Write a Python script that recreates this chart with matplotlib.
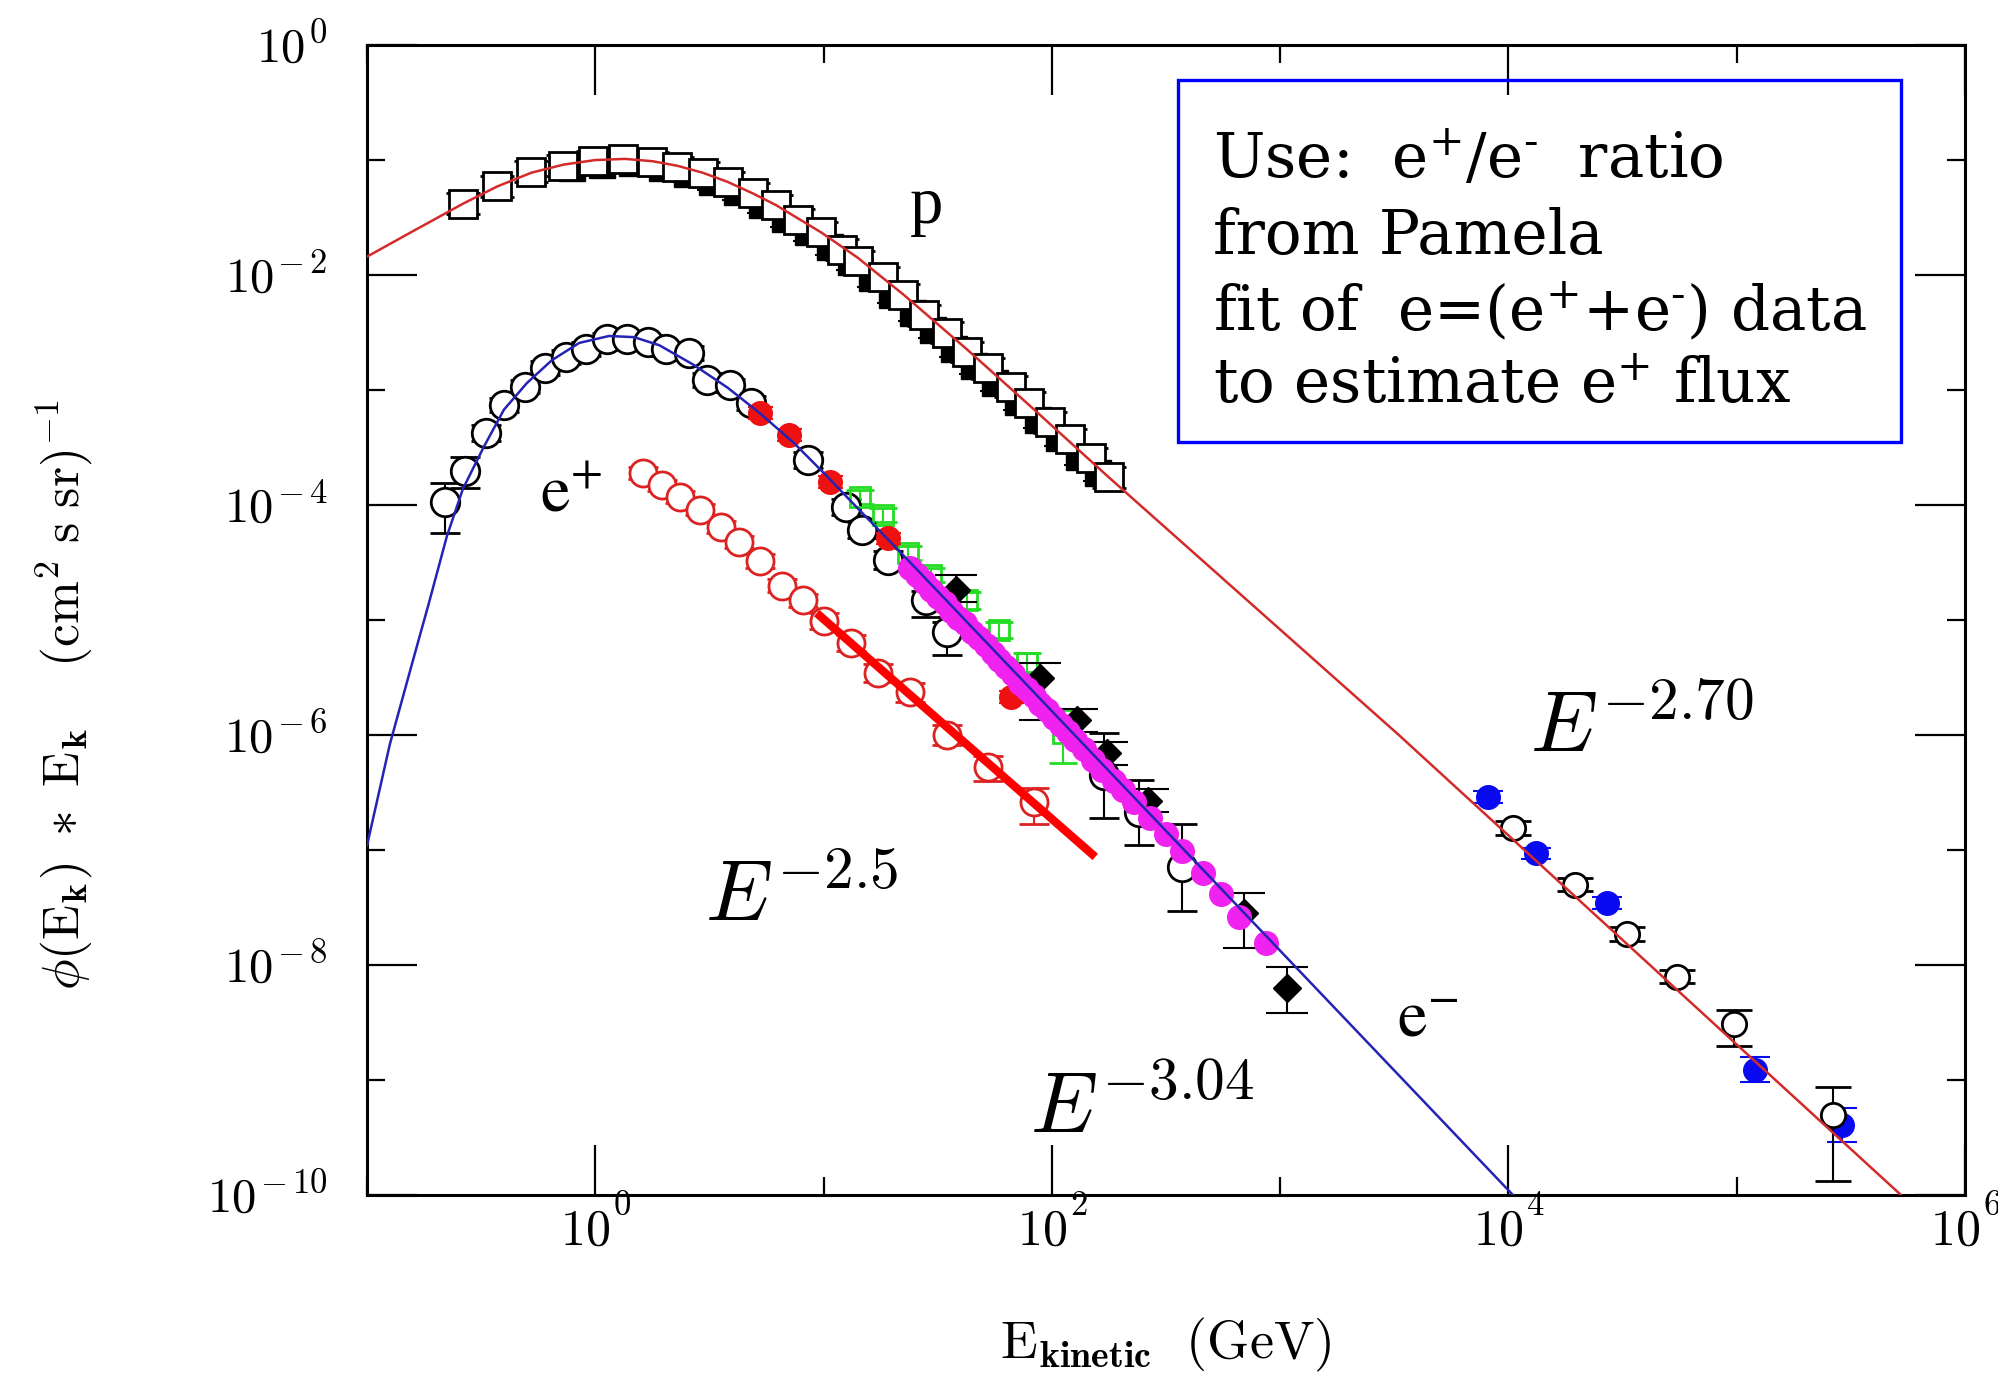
import numpy as np
import matplotlib
matplotlib.use('Agg')
from matplotlib import pyplot as plt
from matplotlib.patches import Rectangle
from matplotlib.ticker import NullFormatter
from matplotlib.transforms import IdentityTransform

plt.rcParams['mathtext.fontset'] = 'cm'
plt.rcParams['font.family'] = ['DejaVu Serif']

# all values are log10: energy in GeV, flux phi(E)*E in (cm^2 s sr)^-1

# proton fit (red curve)
p_fit_logE = [-1.00, -0.80, -0.58, -0.43, -0.28, -0.14, 0.00, 0.13, 0.25, 0.36, 0.47, 0.58,
              0.69, 0.79, 0.89, 0.99, 1.15, 1.35, 1.63, 1.90, 2.25, 3.52, 6.00]
p_fit_logF = [-1.84, -1.62, -1.38, -1.23, -1.11, -1.04, -1.00, -0.99, -1.01, -1.05, -1.11, -1.19,
              -1.29, -1.39, -1.51, -1.63, -1.85, -2.17, -2.65, -3.13, -3.76, -6.00, -10.51]

# electron fit (blue curve)
e_fit_logE = [-1.00, -0.90, -0.80, -0.73, -0.65, -0.58, -0.49, -0.40, -0.30, -0.19, -0.07, 0.06,
              0.17, 0.28, 0.43, 0.58, 0.72, 0.87, 1.01, 1.16, 1.38, 4.01, 4.10]
e_fit_logF = [-6.96, -6.08, -5.36, -4.86, -4.27, -3.86, -3.50, -3.17, -2.94, -2.74, -2.59, -2.53,
              -2.54, -2.61, -2.78, -2.98, -3.20, -3.46, -3.74, -4.05, -4.50, -9.98, -10.17]

# positron power law E^-2.5
pos_line_logE = [0.97, 2.19]
pos_line_logF = [-4.94, -7.06]

# proton data: open squares
p_logE = [-0.58, -0.43, -0.28, -0.14, -0.01, 0.12, 0.25, 0.36, 0.47, 0.58, 0.69, 0.79, 0.89, 0.99,
          1.08, 1.15, 1.26, 1.35, 1.44, 1.54, 1.63, 1.72, 1.82, 1.90, 1.99, 2.08, 2.17, 2.25]
p_logF = [-1.38, -1.23, -1.10, -1.05, -1.01, -0.99, -1.02, -1.06, -1.11, -1.19, -1.29, -1.39, -1.52, -1.63,
          -1.78, -1.88, -2.02, -2.17, -2.35, -2.50, -2.67, -2.81, -2.97, -3.11, -3.28, -3.43, -3.59, -3.76]

# proton data: filled black set
pb_logE = [-0.10, 0.03, 0.16, 0.29, 0.40, 0.51, 0.62, 0.73, 0.83, 0.93, 1.03, 1.12,
           1.21, 1.30, 1.39, 1.48, 1.57, 1.66, 1.75, 1.85, 1.94, 2.03, 2.12, 2.20]
pb_logF = [-1.07, -1.04, -1.03, -1.07, -1.12, -1.19, -1.28, -1.39, -1.51, -1.63, -1.76, -1.89,
           -2.03, -2.17, -2.33, -2.48, -2.64, -2.79, -2.94, -3.10, -3.26, -3.42, -3.58, -3.72]

# electron data: open circles
e_logE = [-0.66, -0.57, -0.48, -0.40, -0.31, -0.22, -0.13, -0.04, 0.05, 0.14, 0.23, 0.31, 0.41, 0.49,
          0.59, 0.68, 0.93, 1.10, 1.17, 1.28, 1.45, 1.54, 2.23, 2.38, 2.57]
e_logF = [-3.97, -3.70, -3.37, -3.13, -2.97, -2.81, -2.71, -2.64, -2.56, -2.56, -2.58, -2.64, -2.68, -2.91,
          -2.96, -3.11, -3.61, -4.02, -4.22, -4.48, -4.83, -5.10, -6.35, -6.67, -7.15]
e_err_lo = [0.27, 0.15, 0.07, 0.06, 0.06, 0.06, 0.06, 0.06, 0.06, 0.06, 0.06, 0.06, 0.06, 0.06,
            0.06, 0.06, 0.07, 0.07, 0.07, 0.08, 0.14, 0.20, 0.37, 0.29, 0.38]
e_err_hi = [0.16, 0.12, 0.07, 0.06, 0.06, 0.06, 0.06, 0.06, 0.06, 0.06, 0.06, 0.06, 0.06, 0.06,
            0.06, 0.06, 0.07, 0.07, 0.07, 0.08, 0.08, 0.08, 0.37, 0.28, 0.38]

# electron data: filled red
r_logE = [0.72, 0.85, 1.03, 1.28, 1.82]
r_logF = [-3.20, -3.39, -3.80, -4.29, -5.67]

# electron data: open green squares
g_logE = [1.16, 1.26, 1.37, 1.47, 1.63, 1.77, 1.89, 2.05]
g_logF = [-3.93, -4.09, -4.42, -4.61, -4.83, -5.09, -5.37, -5.98]
g_err_lo = [0.06, 0.06, 0.06, 0.06, 0.07, 0.07, 0.08, 0.26]
g_err_hi = [0.06, 0.06, 0.06, 0.06, 0.07, 0.07, 0.08, 0.20]

# electron data: filled black diamonds
d_logE = [1.58, 1.95, 2.11, 2.24, 2.42, 2.84, 3.03]
d_logF = [-4.74, -5.50, -5.87, -6.16, -6.57, -7.55, -8.20]
d_err_lo = [0.10, 0.37, 0.10, 0.10, 0.10, 0.30, 0.22]
d_err_hi = [0.13, 0.13, 0.10, 0.10, 0.10, 0.18, 0.18]

# electron data: filled magenta
m_logE = [1.38, 1.41, 1.44, 1.47, 1.50, 1.53, 1.56, 1.59, 1.62, 1.65, 1.68, 1.71, 1.74, 1.77, 1.80,
          1.83, 1.86, 1.89, 1.92, 1.95, 1.98, 2.01, 2.04, 2.07, 2.10, 2.14, 2.18, 2.22, 2.27, 2.31,
          2.36, 2.43, 2.50, 2.57, 2.66, 2.74, 2.82, 2.94]
m_logF = [-4.55, -4.61, -4.67, -4.74, -4.80, -4.85, -4.92, -4.98, -5.03, -5.10, -5.16, -5.22, -5.29, -5.35, -5.41,
          -5.47, -5.55, -5.60, -5.66, -5.73, -5.78, -5.85, -5.91, -5.97, -6.04, -6.12, -6.22, -6.30, -6.40, -6.48,
          -6.58, -6.72, -6.86, -7.01, -7.20, -7.38, -7.58, -7.81]

# positron estimate: open red circles
ep_logE = [0.21, 0.29, 0.37, 0.46, 0.55, 0.63, 0.72, 0.82, 0.91, 1.00, 1.12, 1.24, 1.38, 1.54, 1.72, 1.92]
ep_logF = [-3.72, -3.83, -3.93, -4.04, -4.19, -4.32, -4.49, -4.70, -4.83, -5.01, -5.20, -5.46, -5.63, -6.00, -6.28, -6.58]
ep_err_lo = [0.05, 0.05, 0.05, 0.05, 0.05, 0.05, 0.06, 0.06, 0.06, 0.07, 0.07, 0.08, 0.08, 0.09, 0.12, 0.19]
ep_err_hi = [0.05, 0.05, 0.05, 0.05, 0.05, 0.05, 0.06, 0.06, 0.06, 0.07, 0.07, 0.08, 0.08, 0.09, 0.10, 0.12]

# high energy protons: filled blue and open black
hb_logE = [3.91, 4.12, 4.43, 5.08, 5.46]
hb_logF = [-6.54, -7.03, -7.46, -8.91, -9.39]
hb_err = [0.05, 0.05, 0.05, 0.11, 0.15]
ho_logE = [4.02, 4.29, 4.52, 4.74, 4.99, 5.42]
ho_logF = [-6.81, -7.30, -7.73, -8.10, -8.51, -9.30]
ho_err_lo = [0.06, 0.06, 0.06, 0.06, 0.19, 0.58]
ho_err_hi = [0.06, 0.06, 0.06, 0.06, 0.12, 0.24]

P_CAP = 0.09

# decade exponents carrying labels / minor ticks
x_label_exp = [0, 2, 4, 6]
x_minor_exp = [-1, 1, 3, 5]
y_label_exp = [0, -2, -4, -6, -8, -10]
y_minor_exp = [-1, -3, -5, -7, -9]


def dex(a):
    return 10.0 ** np.asarray(a, dtype=float)


def errs(logF, lo, hi):
    f = dex(logF)
    lf = np.asarray(logF, dtype=float)
    return [f - dex(lf - np.asarray(lo)), dex(lf + np.asarray(hi)) - f]


def exp_text(n):
    if n < 0:
        return r'$-\,%d$' % abs(n)
    return r'$%d$' % n


fig = plt.figure(figsize=(19.99, 13.82), dpi=100)
ax = fig.add_axes([0.1836, 0.1353, 0.7994, 0.8321])
ax.set_xscale('log')
ax.set_yscale('log')
ax.set_xlim(1e-1, 1e6)
ax.set_ylim(1e-10, 1e0)

eb = dict(linestyle='none', capthick=1.5, elinewidth=1.5)

# protons
ax.errorbar(dex(pb_logE), dex(pb_logF), yerr=errs(pb_logF, [0.07] * len(pb_logF), [0.07] * len(pb_logF)),
            marker='s', ms=19, mfc='black', mec='black', ecolor='black', capsize=11, zorder=3, **eb)
ax.errorbar(dex(p_logE), dex(p_logF), yerr=errs(p_logF, [P_CAP] * len(p_logF), [P_CAP] * len(p_logF)),
            marker='s', ms=20, mfc='white', mec='black', mew=2.0, ecolor='black', capsize=12, zorder=4, **eb)

# electrons
ax.errorbar(dex(e_logE), dex(e_logF), yerr=errs(e_logF, e_err_lo, e_err_hi),
            marker='o', ms=20.5, mfc='white', mec='black', mew=2.0, ecolor='black', capsize=11, zorder=3, **eb)
ax.errorbar(dex(g_logE), dex(g_logF), yerr=errs(g_logF, g_err_lo, g_err_hi),
            marker='s', ms=15, mfc='none', mec='#22dd22', mew=2.0, ecolor='#22dd22', capsize=10, zorder=3, **eb)
ax.errorbar(dex(r_logE), dex(r_logF), yerr=errs(r_logF, [0.05] * 5, [0.05] * 5),
            marker='o', ms=17, mfc='#ee1111', mec='#ee1111', ecolor='#ee1111', capsize=9, zorder=4, **eb)
ax.errorbar(dex(d_logE), dex(d_logF), yerr=errs(d_logF, d_err_lo, d_err_hi),
            marker='D', ms=14, mfc='black', mec='black', ecolor='black', capsize=15, zorder=4, **eb)
ax.plot(dex(m_logE), dex(m_logF), 'o', ms=17, color='#f022f0', zorder=5)

# positrons
ax.errorbar(dex(ep_logE), dex(ep_logF), yerr=errs(ep_logF, ep_err_lo, ep_err_hi),
            marker='o', ms=19.5, mfc='white', mec='#dd2222', mew=2.0, ecolor='#dd2222', capsize=11, zorder=3, **eb)

# high energy points
ax.errorbar(dex(hb_logE), dex(hb_logF), yerr=errs(hb_logF, hb_err, hb_err),
            marker='o', ms=17, mfc='#0a0af0', mec='#0a0af0', ecolor='#0a0af0', capsize=11, zorder=3, **eb)
ax.errorbar(dex(ho_logE), dex(ho_logF), yerr=errs(ho_logF, ho_err_lo, ho_err_hi),
            marker='o', ms=17.5, mfc='white', mec='black', mew=2.0, ecolor='black', capsize=13, zorder=4, **eb)

# fitted curves
ax.plot(dex(p_fit_logE), dex(p_fit_logF), color='#d42a2a', lw=1.8, zorder=6)
ax.plot(dex(e_fit_logE), dex(e_fit_logF), color='#2424b4', lw=1.8, zorder=6)
ax.plot(dex(pos_line_logE), dex(pos_line_logF), color='#ff0000', lw=6, zorder=6, solid_capstyle='butt')

# labels on the curves
ax.text(dex(1.378), dex(-1.548), 'p', fontsize=48, family='Liberation Serif', ha='left', va='baseline')
ax.text(dex(-0.242), dex(-4.06), r'$\mathrm{e}^{+}$', fontsize=48, math_fontfamily='stix',
        ha='left', va='baseline')
ax.text(dex(3.51), dex(-8.61), r'$\mathrm{e}^{-}$', fontsize=48, math_fontfamily='stix',
        ha='left', va='baseline')
ax.text(dex(4.094), dex(-6.14), r'$E^{-2.70}$', fontsize=61, ha='left', va='baseline')
ax.text(dex(0.48), dex(-7.62), r'$E^{-2.5}$', fontsize=61, ha='left', va='baseline')
ax.text(dex(1.904), dex(-9.45), r'$E^{-3.04}$', fontsize=61, ha='left', va='baseline')

# ticks
ax.set_xticks(dex(x_label_exp))
ax.set_xticks(dex(x_minor_exp), minor=True)
ax.set_yticks(dex(y_label_exp))
ax.set_yticks(dex(y_minor_exp), minor=True)
for axis in (ax.xaxis, ax.yaxis):
    axis.set_major_formatter(NullFormatter())
    axis.set_minor_formatter(NullFormatter())
ax.tick_params(which='both', direction='in', top=True, right=True, width=1.6)
ax.tick_params(which='major', length=36)
ax.tick_params(which='minor', length=13)
for s in ax.spines.values():
    s.set_linewidth(2.2)

# power-of-ten tick labels: base and exponent set as separate texts (pixel coords)
renderer = fig.canvas.get_renderer()
pix = IdentityTransform()
left_px, bottom_px = ax.transAxes.transform((0, 0))
for n in y_label_exp:
    yp = ax.transData.transform((1.0, 10.0 ** n))[1]
    t_exp = fig.text(left_px - 40, yp + 2, exp_text(n), fontsize=25, transform=pix,
                     ha='right', va='baseline')
    w = t_exp.get_window_extent(renderer).width
    fig.text(left_px - 44 - w, yp - 17, r'$10$', fontsize=35, transform=pix,
             ha='right', va='baseline')
for n in x_label_exp:
    xp = ax.transData.transform((10.0 ** n, 1.0))[0]
    t_base = fig.text(0, bottom_px - 50, r'$10$', fontsize=36, transform=pix, ha='left', va='baseline')
    t_exp = fig.text(0, bottom_px - 20, exp_text(n), fontsize=25, transform=pix, ha='left', va='baseline')
    wb = t_base.get_window_extent(renderer).width
    we = t_exp.get_window_extent(renderer).width
    x_left = xp - (wb + 3 + we) / 2
    t_base.set_x(x_left)
    t_exp.set_x(x_left + wb + 3)

# axis titles
fig.text(1166 / 1999, 1 - 1345 / 1382, r'$\mathrm{E}_{\mathbf{kinetic}}\ \ (\mathrm{GeV})$',
         fontsize=39, ha='center', va='center')
fig.text(64 / 1999, 1 - 695 / 1382,
         r'$\phi(\mathrm{E}_{\mathbf{k}})\ *\ \mathrm{E}_{\mathbf{k}}\ \ \ \ (\mathrm{cm}^{2}\ \mathrm{s}\ \mathrm{sr})^{-1}$',
         fontsize=37, rotation=90, ha='center', va='center')

# note box
ax.add_patch(Rectangle((1178 / 1999, 1 - 442 / 1382), (1901 - 1178) / 1999, (442 - 80) / 1382,
                       transform=fig.transFigure, fill=False, edgecolor='#0000ff', lw=2.4, zorder=2,
                       clip_on=False))
box_lines = [r'Use:  e$^{+}$/e$^{\text{-}}$  ratio',
             'from Pamela',
             r'fit of  e=(e$^{+}$+e$^{\text{-}}$) data',
             r'to estimate e$^{+}$ flux']
box_base = [178, 254, 330, 403]
for txt, yb in zip(box_lines, box_base):
    fig.text(1213 / 1999, 1 - yb / 1382, txt, fontsize=44, family='DejaVu Serif',
             math_fontfamily='dejavuserif', ha='left', va='baseline')

fig.savefig('out.png', dpi=100)
